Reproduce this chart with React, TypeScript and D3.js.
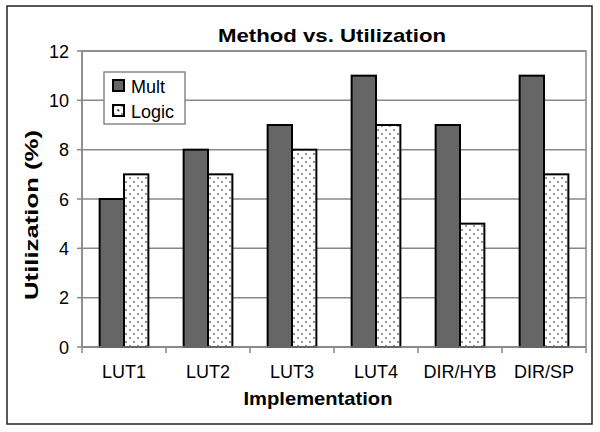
import React from "react";
import * as d3 from "d3";

const categories = ["LUT1", "LUT2", "LUT3", "LUT4", "DIR/HYB", "DIR/SP"];
const multValues = [6, 8, 9, 11, 9, 11];
const logicValues = [7, 7, 8, 9, 5, 7];
const yTicks = [0, 2, 4, 6, 8, 10, 12];
const seriesNames = ["Mult", "Logic"];

const W = 600, H = 432;
const left = 82, right = 586, top = 51, bottom = 347;

export default function App() {
  const x = d3.scaleBand<string>().domain(categories).range([left, right]).paddingInner(0).paddingOuter(0);
  const y = d3.scaleLinear().domain([0, 12]).range([bottom, top]);
  const bw = x.bandwidth();
  const inner = d3.scaleBand<string>().domain(seriesNames).range([bw * 0.21, bw * 0.79]);
  const font = "Arial, 'Liberation Sans', sans-serif";
  const series = [multValues, logicValues];
  return (
    <svg width={W} height={H} style={{ position: "absolute", left: 0, top: 0, background: "#fff" }} fontFamily={font}>
      <defs>
        <pattern id="dots" width="8" height="8" patternUnits="userSpaceOnUse">
          <rect width="8" height="8" fill="#fff" />
          <circle cx="2" cy="2" r="0.9" fill="#666" />
          <circle cx="6" cy="6" r="0.9" fill="#666" />
        </pattern>
      </defs>
      <rect x={7} y={6} width={585} height={418} fill="#fff" stroke="#222" strokeWidth={1.5} />
      <text x={332} y={42} textAnchor="middle" fontSize={19} fontWeight="bold" textLength={228} lengthAdjust="spacingAndGlyphs">Method vs. Utilization</text>
      <rect x={left} y={top} width={right - left} height={bottom - top} fill="#fff" stroke="#888" strokeWidth={1.5} />
      {yTicks.map(t => (
        <g key={t}>
          <line x1={left} x2={right} y1={y(t)} y2={y(t)} stroke="#888" strokeWidth={1.5} />
          <line x1={left - 5} x2={left} y1={y(t)} y2={y(t)} stroke="#888" strokeWidth={1.5} />
          <text x={left - 13} y={y(t) + 6.5} textAnchor="end" fontSize={18}>{t}</text>
        </g>
      ))}
      <line x1={left} x2={left} y1={top} y2={bottom} stroke="#888" strokeWidth={1.5} />
      {categories.map((c, i) => (
        <g key={c}>
          {series.map((vals, s) => (
            <rect key={s} x={(x(c) as number) + (inner(seriesNames[s]) as number)} y={y(vals[i])}
              width={inner.bandwidth()} height={bottom - y(vals[i])}
              fill={s === 0 ? "#666" : "url(#dots)"} stroke="#000" strokeWidth={2} />
          ))}
          <text x={(x(c) as number) + bw / 2} y={bottom + 31} textAnchor="middle" fontSize={18}>{c}</text>
        </g>
      ))}
      <line x1={left} x2={right} y1={bottom} y2={bottom} stroke="#888" strokeWidth={1.5} />
      {[...categories.map(c => x(c) as number), right].map((p, i) => (
        <line key={i} x1={p} x2={p} y1={bottom} y2={bottom + 6} stroke="#888" strokeWidth={1.5} />
      ))}
      <text x={318} y={405} textAnchor="middle" fontSize={19} fontWeight="bold" textLength={149} lengthAdjust="spacingAndGlyphs">Implementation</text>
      <text transform={`translate(38,${(top + bottom) / 2 + 16}) rotate(-90)`} textAnchor="middle" fontSize={19} fontWeight="bold" textLength={170} lengthAdjust="spacingAndGlyphs">Utilization (%)</text>
      <rect x={104} y={72} width={81} height={52} fill="#fff" stroke="#888" strokeWidth={1.5} />
      {seriesNames.map((n, i) => (
        <g key={n}>
          <rect x={113} y={80 + i * 25} width={11} height={11} fill={i === 0 ? "#666" : "url(#dots)"} stroke="#000" strokeWidth={2} />
          {i === 1 ? <circle cx={118.5} cy={110.5} r={1} fill="#333" /> : null}
          <text x={131} y={93 + i * 25} fontSize={18}>{n}</text>
        </g>
      ))}
    </svg>
  );
}
